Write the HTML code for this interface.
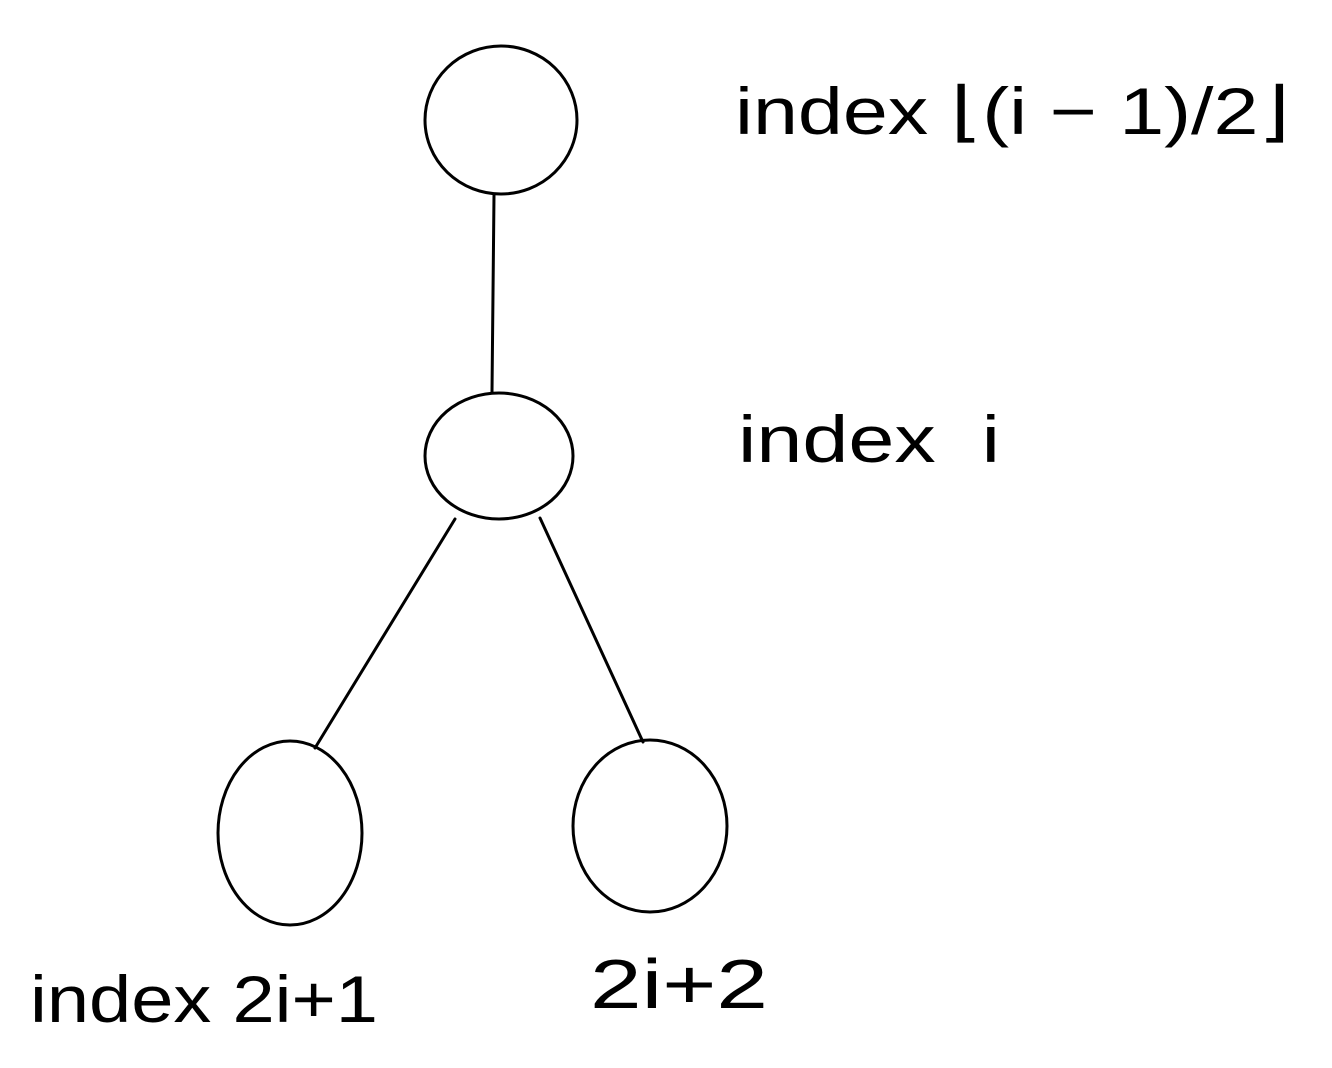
<!DOCTYPE html>
<html>
<head>
<meta charset="utf-8">
<style>
  html,body{margin:0;padding:0;background:#fff;}
  svg{display:block;}
  text{font-family:"Liberation Sans","DejaVu Sans",sans-serif;fill:#000;}
</style>
</head>
<body>
<svg width="1332" height="1068" viewBox="0 0 1332 1068" xmlns="http://www.w3.org/2000/svg">
  <g fill="none" stroke="#000" stroke-width="3" stroke-linecap="round">
    <ellipse cx="501" cy="120" rx="76" ry="74"/>
    <ellipse cx="499" cy="456" rx="74" ry="63"/>
    <ellipse cx="290" cy="833" rx="72" ry="92"/>
    <ellipse cx="650" cy="826" rx="77" ry="86"/>
    <line x1="494" y1="195" x2="492" y2="392"/>
    <line x1="455" y1="519" x2="315" y2="748"/>
    <line x1="540" y1="518" x2="643" y2="742"/>
  </g>
  <text x="735" y="134" font-size="66" textLength="555" lengthAdjust="spacingAndGlyphs">index ⌊(i − 1)/2⌋</text>
  <text x="738" y="462" font-size="66" textLength="262" lengthAdjust="spacingAndGlyphs">index&#160; i</text>
  <text x="30" y="1022" font-size="66" textLength="348" lengthAdjust="spacingAndGlyphs">index 2i+1</text>
  <text x="590" y="1008" font-size="70" textLength="178" lengthAdjust="spacingAndGlyphs">2i+2</text>
</svg>
</body>
</html>
